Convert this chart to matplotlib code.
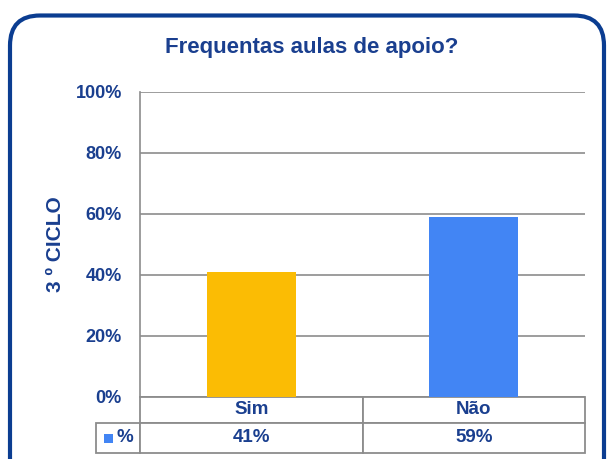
import matplotlib
matplotlib.use("Agg")
import matplotlib.pyplot as plt
from matplotlib.table import Table
from matplotlib.patches import FancyBboxPatch, Rectangle
from matplotlib.ticker import PercentFormatter

plt.rcParams['font.family'] = ['Liberation Sans', 'DejaVu Sans']

# ---- data ----
title = "Frequentas aulas de apoio?"
ylabel = "3 º CICLO"
categories = ["Sim", "Não"]
values = [0.41, 0.59]
value_labels = ["41%", "59%"]
series_name = "%"
bar_colors = ["#FBBC04", "#4285F4"]
yticks = [0, 0.2, 0.4, 0.6, 0.8, 1.0]

TXT = "#1A3F8F"
GRID = "#8C8C8C"
BORDER = "#0B3D91"

W, H = 608, 459
fig = plt.figure(figsize=(W / 100, H / 100), dpi=100)
fig.patch.set_facecolor("white")

# rounded border (in inches, isotropic)
border = FancyBboxPatch((0.10, -0.30), 5.94, 4.435 + 0.30,
                        boxstyle="round,pad=0,rounding_size=0.30",
                        transform=fig.dpi_scale_trans, fill=False,
                        edgecolor=BORDER, linewidth=3.0, zorder=0)
fig.patches.append(border)

ax_left, ax_right, ax_top, ax_bot = 140, 585, 91.7, 396.7
ax = fig.add_axes([ax_left / W, 1 - ax_bot / H, (ax_right - ax_left) / W, (ax_bot - ax_top) / H])
axw = ax_right - ax_left
axh = ax_bot - ax_top

x = list(range(len(categories)))
ax.bar(x, values, width=0.4, color=bar_colors, zorder=3)
ax.set_xlim(-0.5, len(categories) - 0.5)
ax.set_ylim(0, 1)
ax.set_yticks(yticks)
ax.yaxis.set_major_formatter(PercentFormatter(1.0, decimals=0))
ax.set_xticks([])
ax.grid(axis="y", color=GRID, linewidth=1.2, zorder=0)
for s in ["top", "right", "bottom"]:
    ax.spines[s].set_visible(False)
ax.spines["left"].set_color(GRID)
ax.spines["left"].set_linewidth(1.2)
ax.tick_params(axis="y", length=0, pad=13, labelsize=13, labelcolor=TXT)
for lab in ax.get_yticklabels():
    lab.set_fontweight("bold")

ax.set_ylabel(ylabel, fontsize=15, fontweight="bold", color=TXT)
ax.yaxis.set_label_coords((55.5 - ax_left) / axw, 0.5)
ax.yaxis.label.set_va("center")

fig.text(312 / W, 1 - 47 / H, title, ha="center", va="center",
         fontsize=16, fontweight="bold", color=TXT)

# ---- data table ----
row0_h = 26.0 / axh
row1_h = 30.0 / axh
lab_w = (ax_left - 96) / axw
tbl = Table(ax, bbox=[0, -(row0_h + row1_h), 1, row0_h + row1_h])
n = len(categories)
for j, cat in enumerate(categories):
    tbl.add_cell(0, j, width=1.0 / n, height=row0_h, text=cat, loc="center")
    tbl.add_cell(1, j, width=1.0 / n, height=row1_h, text=value_labels[j], loc="center")
rl = tbl.add_cell(1, -1, width=lab_w, height=row1_h, text=series_name, loc="right")
rl.PAD = 0.16
tbl.auto_set_font_size(False)
tbl.set_fontsize(13.5)
for (r, c), cell in tbl.get_celld().items():
    cell.set_edgecolor(GRID)
    cell.set_linewidth(1.3)
    cell.set_text_props(fontweight="bold", color=TXT)
tbl.set_clip_on(False)
ax.add_table(tbl)

# legend key square
sq = 9
ax.add_patch(Rectangle(((104 - ax_left) / axw, (ax_bot - 442.5) / axh),
                       sq / axw, sq / axh, transform=ax.transAxes,
                       facecolor=bar_colors[1], edgecolor="none", clip_on=False, zorder=5))

fig.savefig("out.png", dpi=100)
